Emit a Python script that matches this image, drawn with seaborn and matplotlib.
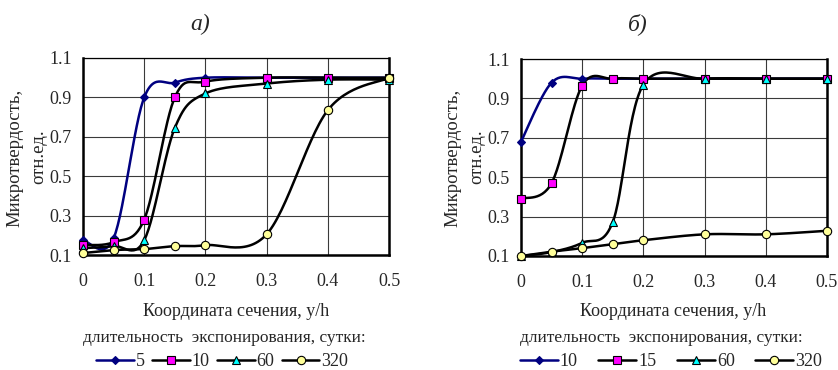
import numpy as np
import matplotlib
matplotlib.use("Agg")
import matplotlib.pyplot as plt
from matplotlib.lines import Line2D
import seaborn as sns

# coordinates of the section (y/h) where hardness was measured
x_pos = [0, 0.05, 0.1, 0.15, 0.2, 0.3, 0.4, 0.5]

# panel a) exposure 5, 10, 60, 320 days
a_labels = ["5", "10", "60", "320"]
a_5 = [0.175, 0.185, 0.90, 0.975, 1.0, 1.0, 1.0, 1.0]
a_10 = [0.15, 0.165, 0.28, 0.90, 0.98, 1.0, 1.0, 1.0]
a_60 = [0.135, 0.145, 0.175, 0.745, 0.92, 0.97, 0.99, 0.99]
a_320 = [0.11, 0.125, 0.13, 0.145, 0.15, 0.205, 0.835, 1.0]

# panel b) exposure 10, 15, 60, 320 days
b_labels = ["10", "15", "60", "320"]
b_10 = [0.68, 0.98, 1.0, 1.0, 1.0, 1.0, 1.0, 1.0]
b_15 = [0.39, 0.47, 0.965, 1.0, 1.0, 1.0, 1.0, 1.0]
b_60 = [0.10, 0.12, 0.167, 0.273, 0.97, 1.0, 1.0, 1.0]
b_320 = [0.10, 0.122, 0.14, 0.16, 0.18, 0.21, 0.21, 0.228]

x_ticks = [0, 0.1, 0.2, 0.3, 0.4, 0.5]
x_ticklabels = ["0", "0.1", "0.2", "0.3", "0.4", "0.5"]
y_ticks = [0.1, 0.3, 0.5, 0.7, 0.9, 1.1]
y_ticklabels = ["0.1", "0.3", "0.5", "0.7", "0.9", "1.1"]

styles = [
    dict(color="#000080", marker="D", mfc="#000080", mec="#000080", ms=4.5),
    dict(color="black", marker="s", mfc="#FF00FF", mec="black", ms=5.5),
    dict(color="black", marker="^", mfc="#00FFFF", mec="black", ms=6),
    dict(color="black", marker="o", mfc="#FFFF99", mec="black", ms=6),
]

sns.set_style("white")
plt.rcParams["font.family"] = ["Liberation Serif", "DejaVu Serif"]

W, H = 838, 370
AX_W, AX_H = 306, 197


def smooth_line(xs, ys, n=30):
    # Excel-like smoothed line (Catmull-Rom bezier) computed in screen space
    px = np.array(xs) / 0.5 * AX_W
    py = np.array(ys) * AX_H
    pts = np.column_stack([px, py])
    out = [pts[0]]
    t = np.linspace(0, 1, n)[1:]
    for i in range(len(pts) - 1):
        p0 = pts[max(i - 1, 0)]
        p1 = pts[i]
        p2 = pts[i + 1]
        p3 = pts[min(i + 2, len(pts) - 1)]
        c1 = p1 + (p2 - p0) / 6
        c2 = p2 - (p3 - p1) / 6
        seg = ((1 - t) ** 3)[:, None] * p1 + (3 * (1 - t) ** 2 * t)[:, None] * c1 \
            + (3 * (1 - t) * t ** 2)[:, None] * c2 + (t ** 3)[:, None] * p2
        out.extend(seg)
    out = np.array(out)
    return out[:, 0] / AX_W * 0.5, out[:, 1] / AX_H


def draw_panel(ax, series):
    for ys, st in zip(series, styles):
        sx, sy = smooth_line(x_pos, ys)
        sns.lineplot(x=sx, y=sy, ax=ax, sort=False, estimator=None,
                     color=st["color"], lw=1.8, clip_on=False, zorder=3)
        ax.plot(x_pos, ys, ls="none", marker=st["marker"], mfc=st["mfc"],
                mec=st["mec"], ms=st["ms"], mew=0.8, clip_on=False, zorder=4)
    ax.set_xlim(0, 0.5)
    ax.set_ylim(0.1, 1.1)
    ax.set_xticks(x_ticks)
    ax.set_xticklabels(x_ticklabels)
    ax.set_yticks(y_ticks)
    ax.set_yticklabels(y_ticklabels)
    ax.grid(True, color="#3a3a3a", lw=0.8)
    ax.set_axisbelow(True)
    ax.tick_params(axis="x", length=4, width=0.8, pad=9, labelsize=13, direction="out")
    ax.tick_params(axis="y", length=4, width=0.8, pad=4, labelsize=13, direction="out")
    for side in ["left", "bottom", "right"]:
        ax.spines[side].set_linewidth(1.8)
        ax.spines[side].set_color("black")
    ax.spines["top"].set_linewidth(0.9)
    ax.spines["top"].set_color("black")
    ax.set_xlabel("")
    ax.set_ylabel("")


def handles(labels):
    hs = []
    for lab, st in zip(labels, styles):
        hs.append(Line2D([], [], color=st["color"], lw=1.8, marker=st["marker"],
                         mfc=st["mfc"], mec=st["mec"], ms=st["ms"], mew=0.8, label=lab))
    return hs


fig = plt.figure(figsize=(W / 100, H / 100), dpi=100)
ax_a = fig.add_axes([83 / W, 1 - 255 / H, AX_W / W, AX_H / H])
ax_b = fig.add_axes([521 / W, 1 - 256 / H, AX_W / W, AX_H / H])

draw_panel(ax_a, [a_5, a_10, a_60, a_320])
draw_panel(ax_b, [b_10, b_15, b_60, b_320])

for cx, title in [(200, "а)"), (638, "б)")]:
    fig.text(cx / W, 1 - 24 / H, title, ha="center", va="center",
             fontsize=17, style="italic")

for x1, x2 in [(15, 39), (453, 477)]:
    fig.text(x1 / W, 1 - 158 / H, "Микротвердость,", rotation=90,
             ha="center", va="center", fontsize=13.5)
    fig.text(x2 / W, 1 - 157 / H, "отн.ед.", rotation=90,
             ha="center", va="center", fontsize=13.5)

for cx in [236, 673]:
    fig.text(cx / W, 1 - 311 / H, "Координата сечения, y/h", ha="center",
             va="center", fontsize=13)

for cx in [224, 661]:
    fig.text(cx / W, 1 - 338 / H, "длительность  экспонирования, сутки:",
             ha="center", va="center", fontsize=12.5)

fig.legend(handles=handles(a_labels), loc="center", bbox_to_anchor=(222 / W, 1 - 362 / H),
           ncol=4, frameon=False, fontsize=13, handlelength=2.1, handletextpad=0.1,
           columnspacing=0.4, borderpad=0, borderaxespad=0)
fig.legend(handles=handles(b_labels), loc="center", bbox_to_anchor=(671 / W, 1 - 362 / H),
           ncol=4, frameon=False, fontsize=13, handlelength=2.1, handletextpad=0.1,
           columnspacing=1.15, borderpad=0, borderaxespad=0)

fig.savefig("out.png", dpi=100)
plt.close(fig)
